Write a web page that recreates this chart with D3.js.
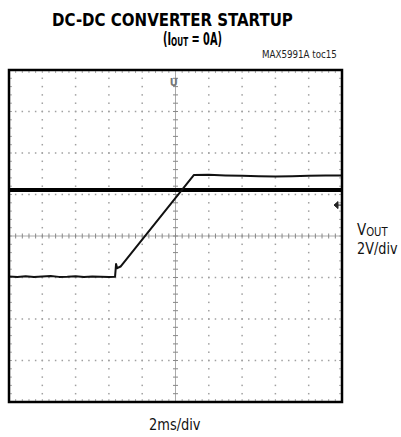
<!DOCTYPE html>
<html><head><meta charset="utf-8">
<script src="https://cdn.jsdelivr.net/npm/d3@7"></script>
<style>
html,body{margin:0;padding:0;background:#fff;}
svg{display:block;}
.narrow{font-family:"Liberation Sans Narrow","DejaVu Sans Condensed","Liberation Sans",Arial,sans-serif;font-stretch:condensed;}
</style>
</head><body>
<svg id="chart" width="401" height="437"></svg>
<script>
// ---- data ----
const timeDomain = [0, 20];          // ms (10 div x 2 ms/div)
const voltDomain = [-8, 8];          // V  (8 div x 2 V/div)
const xDivisions = 10;
const yDivisions = 8;
const minorPerDiv = 5;
const voutTime = [0, 0.5, 1, 1.5, 2, 2.5, 3, 3.5, 4, 4.5, 5, 5.5, 6, 6.37, 6.43, 6.50, 6.70, 11.11, 12, 13, 14, 15, 16, 17, 18, 19, 20];
const voutVolt = [-1.95, -1.97, -1.94, -1.98, -1.95, -1.93, -1.97, -1.96, -1.94, -1.98, -1.95, -1.96, -1.97, -1.96, -1.35, -1.55, -1.47, 2.94, 2.95, 2.92, 2.90, 2.88, 2.87, 2.88, 2.90, 2.91, 2.92];
const refTime = [0, 20];
const refVolt = [2.22, 2.22];
const groundMarkerVolt = 1.49;
const triggerTime = 9.9;
const titleLines = ["DC-DC CONVERTER STARTUP"];
const xLabel = "2ms/div";
const yLabel = "2V/div";
const tocLabel = "MAX5991A toc15";

// ---- layout ----
const svg = d3.select("#chart");
const L = 9, R = 342, T = 70, B = 402;
const x = d3.scaleLinear().domain(timeDomain).range([L, R]);
const y = d3.scaleLinear().domain(voltDomain).range([B, T]);

const xStep = (timeDomain[1]-timeDomain[0])/xDivisions;
const yStep = (voltDomain[1]-voltDomain[0])/yDivisions;
const xMajor = d3.range(1, xDivisions).map(i => timeDomain[0] + i*xStep);
const yMajor = d3.range(1, yDivisions).map(i => voltDomain[0] + i*yStep);
const xMinor = d3.range(0, xDivisions*minorPerDiv + 1).map(i => timeDomain[0] + i*xStep/minorPerDiv);
const yMinor = d3.range(0, yDivisions*minorPerDiv + 1).map(i => voltDomain[0] + i*yStep/minorPerDiv);
const xMid = (timeDomain[0]+timeDomain[1])/2, yMid = (voltDomain[0]+voltDomain[1])/2;

const grid = svg.append("g");
xMajor.filter(v => v !== xMid).forEach(t => {
  grid.selectAll(null).data(yMinor.slice(1,-1)).enter().append("rect")
    .attr("x", x(t)-0.75).attr("y", d => y(d)-0.75).attr("width", 1.5).attr("height", 1.5)
    .attr("fill", "#a0a0a0");
});
yMajor.filter(v => v !== yMid).forEach(v => {
  grid.selectAll(null).data(xMinor.slice(1,-1)).enter().append("rect")
    .attr("x", d => x(d)-0.75).attr("y", y(v)-0.75).attr("width", 1.5).attr("height", 1.5)
    .attr("fill", "#a0a0a0");
});
// center axes
grid.append("line").attr("x1", L).attr("x2", R).attr("y1", y(yMid)).attr("y2", y(yMid))
  .attr("stroke", "#aaa").attr("stroke-width", 1);
grid.append("line").attr("x1", x(xMid)).attr("x2", x(xMid)).attr("y1", T).attr("y2", B)
  .attr("stroke", "#aaa").attr("stroke-width", 1);
grid.selectAll(null).data(xMinor).enter().append("line")
  .attr("x1", d => x(d)).attr("x2", d => x(d))
  .attr("y1", y(yMid)-2.5).attr("y2", y(yMid)+2.5).attr("stroke", "#888").attr("stroke-width", 1);
grid.selectAll(null).data(yMinor).enter().append("line")
  .attr("y1", d => y(d)).attr("y2", d => y(d))
  .attr("x1", x(xMid)-2.5).attr("x2", x(xMid)+2.5).attr("stroke", "#888").attr("stroke-width", 1);
// edge ticks
[[T, T+3], [B-3, B]].forEach(([a, b]) => {
  grid.selectAll(null).data(xMinor).enter().append("line")
    .attr("x1", d => x(d)).attr("x2", d => x(d)).attr("y1", a).attr("y2", b)
    .attr("stroke", "#aaa").attr("stroke-width", 1);
});
[[L, L+3], [R-3, R]].forEach(([a, b]) => {
  grid.selectAll(null).data(yMinor).enter().append("line")
    .attr("y1", d => y(d)).attr("y2", d => y(d)).attr("x1", a).attr("x2", b)
    .attr("stroke", "#aaa").attr("stroke-width", 1);
});

// traces
const line = d3.line().x(d => x(d[0])).y(d => y(d[1]));
svg.append("path").datum(d3.zip(refTime, refVolt)).attr("d", line)
  .attr("fill", "none").attr("stroke", "#000").attr("stroke-width", 4);
svg.append("path").datum(d3.zip(voutTime, voutVolt)).attr("d", line)
  .attr("fill", "none").attr("stroke", "#111").attr("stroke-width", 2).attr("stroke-linejoin", "round");

// markers
const gy = y(groundMarkerVolt);
svg.append("path").attr("d", `M${R-8},${gy} L${R-4},${gy-3.5} L${R-4},${gy+3.5} Z M${R-4},${gy} L${R-1},${gy}`)
  .attr("fill", "#222").attr("stroke", "#222").attr("stroke-width", 1);
svg.append("text").attr("x", x(triggerTime)).attr("y", T+16).attr("text-anchor", "middle")
  .attr("class", "narrow").attr("font-size", 11).attr("font-weight", "bold").attr("fill", "#777").text("U");

// border
svg.append("rect").attr("x", L).attr("y", T).attr("width", R-L).attr("height", B-T)
  .attr("fill", "none").attr("stroke", "#000").attr("stroke-width", 2.5);

// texts: fitted horizontally with a scale transform
function fit(g, x0, y0, width) {
  const w = g.node().getBBox().width;
  g.attr("transform", `translate(${x0},${y0}) scale(${width / w},1)`);
  return g;
}
function label(parts, x0, y0, width, size, weight, fill) {
  const g = svg.append("g");
  const t = g.append("text").attr("class", "narrow").attr("font-size", size)
    .attr("font-weight", weight).attr("fill", fill);
  parts.forEach(p => {
    t.append("tspan").attr("font-size", p.size || size).attr("dy", p.dy || 0).text(p.text);
  });
  return fit(g, x0, y0, width);
}
label([{text: titleLines[0]}], 52, 25.5, 241, 18, "bold", "#000");
label([{text: "(I"}, {text: "OUT", size: 13, dy: 1}, {text: " = 0A)", dy: -1}], 163, 44.5, 59, 17.5, "bold", "#000");
label([{text: tocLabel}], 262, 58, 75, 10, "normal", "#222");
label([{text: "V"}, {text: "OUT", size: 12, dy: 1}], 357, 235, 31, 16, "normal", "#111");
label([{text: yLabel}], 357, 254, 41, 16, "normal", "#111");
label([{text: xLabel}], 149, 430, 52, 16, "normal", "#111");
</script>
</body></html>
